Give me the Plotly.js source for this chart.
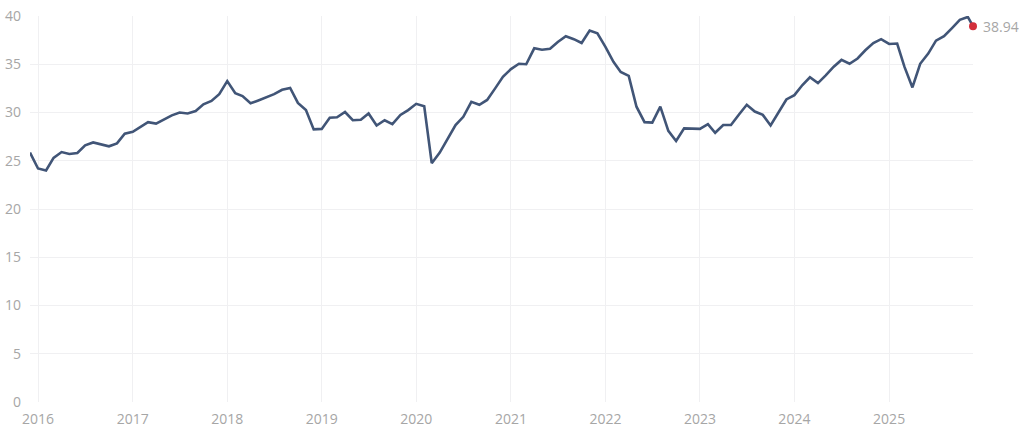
<!DOCTYPE html>
<html>
<head>
<meta charset="utf-8">
<script src="https://cdn.plot.ly/plotly-3.0.1.min.js"></script>
<style>html,body{margin:0;padding:0;background:#fff;}#chart{width:1024px;height:435px;}</style>
</head>
<body>
<div id="chart"></div>
<script>
// Monthly values, Dec 2015 .. Nov 2025, then latest reading
const values = [
  25.85, 24.2, 24.0, 25.3, 25.9, 25.7, 25.8, 26.6, 26.9, 26.7, 26.5, 26.8,
  27.8, 28.0, 28.5, 29.0, 28.85, 29.3, 29.7, 30.0, 29.9, 30.15, 30.85, 31.2,
  31.9, 33.25, 32.0, 31.7, 30.95, 31.25, 31.6, 31.9, 32.35, 32.55, 31.0, 30.25,
  28.25, 28.3, 29.45, 29.5, 30.05, 29.2, 29.25, 29.9, 28.65, 29.2, 28.8, 29.75,
  30.25, 30.9, 30.65, 24.75, 25.85, 27.2, 28.7, 29.55, 31.1, 30.8, 31.3, 32.5,
  33.7, 34.5, 35.05, 35.0, 36.65, 36.5, 36.6, 37.3, 37.9, 37.6, 37.2, 38.5,
  38.2, 36.8, 35.25, 34.2, 33.8, 30.6, 29.0, 28.95, 30.6, 28.1, 27.05, 28.35,
  28.3, 28.3, 28.8, 27.9, 28.7, 28.7, 29.8, 30.8, 30.1, 29.75, 28.65, 29.95,
  31.35, 31.8, 32.85, 33.65, 33.05, 33.85, 34.75, 35.45, 35.05, 35.6, 36.45, 37.2,
  37.6, 37.1, 37.15, 34.75, 32.6, 35.05, 36.1, 37.45, 37.9, 38.75, 39.6, 39.9
];
const lastDate = "2025-11-21";
const lastValue = 38.94;
const startYear = 2015, startMonth = 12;
const tickYears = ["2016","2017","2018","2019","2020","2021","2022","2023","2024","2025"];
const yTicks = [0, 5, 10, 15, 20, 25, 30, 35, 40];

const dates = [];
for (let i = 0; i < values.length; i++) {
  const m0 = (startMonth - 1) + i;
  const y = startYear + Math.floor(m0 / 12);
  const m = (m0 % 12) + 1;
  dates.push(y + "-" + String(m).padStart(2, "0") + "-01");
}
const xs = dates.concat([lastDate]);
const ys = values.concat([lastValue]);

const fontFam = "'Open Sans', 'DejaVu Sans', sans-serif";
const traces = [
  {
    x: xs, y: ys, type: "scatter", mode: "lines",
    line: {color: "#415577", width: 2.6},
    cliponaxis: false, hoverinfo: "skip"
  },
  {
    x: [lastDate], y: [lastValue], type: "scatter", mode: "markers",
    marker: {color: "#d22f3b", size: 8},
    cliponaxis: false, hoverinfo: "skip"
  }
];
const layout = {
  width: 1024, height: 435,
  margin: {l: 30, r: 51, t: 16, b: 33},
  paper_bgcolor: "#fff", plot_bgcolor: "#fff",
  showlegend: false,
  font: {family: fontFam, size: 14, color: "#a6a6a6"},
  xaxis: {
    type: "date",
    range: [xs[0], lastDate],
    tickvals: tickYears.map(y => y + "-01-01"),
    ticktext: tickYears,
    showgrid: true, gridcolor: "#f0f0f2", gridwidth: 1,
    zeroline: false, showline: false, ticks: "",
    ticklabelstandoff: 7,
    tickfont: {family: fontFam, size: 14, color: "#a6a6a6"}
  },
  yaxis: {
    range: [0, 40],
    tickvals: yTicks,
    showgrid: true, gridcolor: "#f0f0f2", gridwidth: 1,
    zeroline: false, showline: false, ticks: "",
    ticklabelstandoff: 8,
    tickfont: {family: fontFam, size: 14, color: "#a6a6a6"}
  },
  annotations: [{
    x: lastDate, y: lastValue, xref: "x", yref: "y",
    text: lastValue.toFixed(2), showarrow: false,
    xanchor: "left", yanchor: "middle", xshift: 8,
    font: {family: fontFam, size: 14, color: "#a6a6a6"}
  }]
};
Plotly.newPlot("chart", traces, layout, {displayModeBar: false, staticPlot: true});
</script>
</body>
</html>
